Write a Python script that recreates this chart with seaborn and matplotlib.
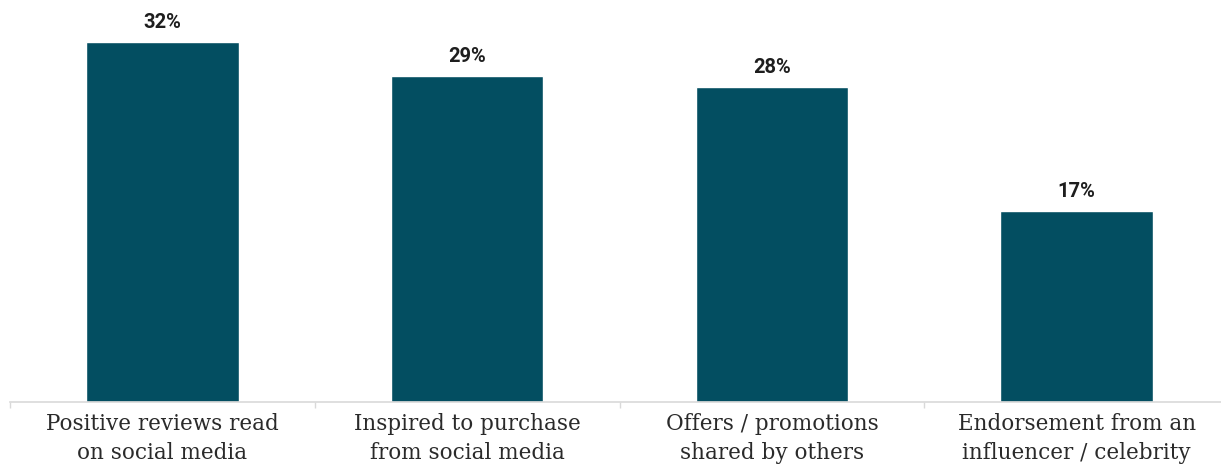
import matplotlib
matplotlib.use("Agg")
import matplotlib.pyplot as plt
import seaborn as sns
import pandas as pd

categories = [
    "Positive reviews read\non social media",
    "Inspired to purchase\nfrom social media",
    "Offers / promotions\nshared by others",
    "Endorsement from an\ninfluencer / celebrity",
]
values = [32, 29, 28, 17]
value_labels = ["32%", "29%", "28%", "17%"]

df = pd.DataFrame({"category": categories, "share": values})

sns.set_theme(style="white")
fig = plt.figure(figsize=(12.21, 4.68), dpi=100)
ax = fig.add_axes([10 / 1221, 1 - 402 / 468, 1219 / 1221, 402 / 468])

sns.barplot(data=df, x="category", y="share", color="#034e61", width=0.5,
            saturation=1, ax=ax)

ax.set_ylim(0, 402 / 11.25)
ax.set_xlim(-0.5, 3.5)
ax.set_xlabel("")
ax.set_ylabel("")
ax.set_yticks([])

for i, (v, lab) in enumerate(zip(values, value_labels)):
    ax.annotate(lab, (i, v), xytext=(0, 7), textcoords="offset points",
                ha="center", va="bottom", fontsize=14.5, fontweight="bold",
                family="Roboto", color="#1e1e1e")

for side in ["top", "right", "left"]:
    ax.spines[side].set_visible(False)
ax.spines["bottom"].set_color("#d9d9d9")
ax.spines["bottom"].set_linewidth(1.2)

ax.set_xticks(range(len(categories)))
ax.set_xticklabels(categories, fontsize=15.5, family="DejaVu Serif",
                   color="#2a2a2a", linespacing=1.38)
ax.tick_params(axis="x", which="major", length=0, pad=8)
ax.set_xticks([-0.5, 0.5, 1.5, 2.5], minor=True)
ax.tick_params(axis="x", which="minor", bottom=True, length=4,
               color="#d9d9d9", width=1)

fig.savefig("out.png", dpi=100)
